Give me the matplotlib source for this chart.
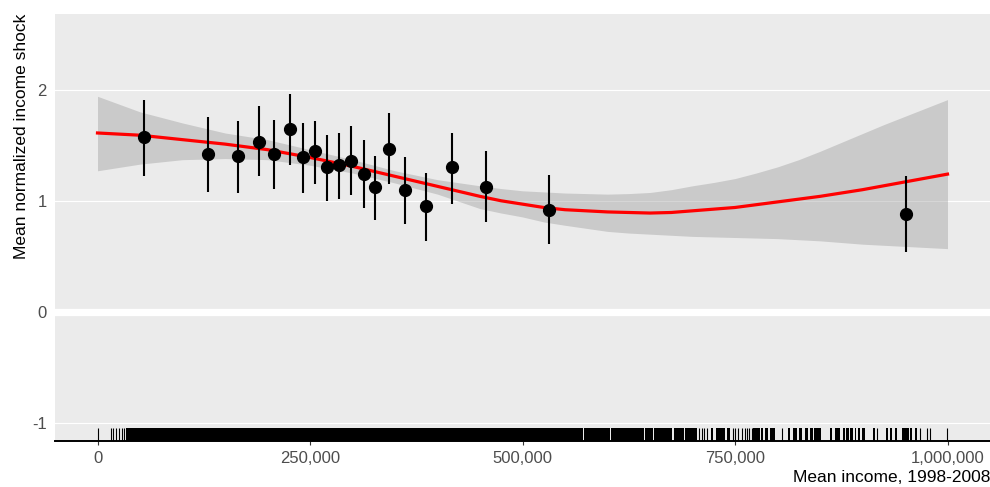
import matplotlib.pyplot as plt
from matplotlib.ticker import FuncFormatter

plt.rcParams["font.family"] = ["Liberation Sans", "DejaVu Sans"]
plt.rcParams["axes.unicode_minus"] = False

# binned means (income, mean shock, lower / upper bar)
bin_income = [55000, 130000, 165000, 190000, 208000, 226000, 242000, 256000, 270000, 284000,
              298000, 313000, 327000, 343500, 362000, 386000, 416500, 457000, 531000, 951000]
bin_mean = [1.57, 1.42, 1.40, 1.53, 1.42, 1.645, 1.39, 1.445, 1.30, 1.32,
            1.36, 1.245, 1.12, 1.47, 1.10, 0.95, 1.30, 1.125, 0.92, 0.88]
bin_hi = [1.91, 1.75, 1.72, 1.85, 1.73, 1.96, 1.70, 1.72, 1.59, 1.61,
          1.67, 1.55, 1.40, 1.79, 1.39, 1.25, 1.61, 1.45, 1.23, 1.22]
bin_lo = [1.22, 1.08, 1.07, 1.22, 1.11, 1.32, 1.07, 1.15, 0.995, 1.02,
          1.05, 0.935, 0.83, 1.15, 0.79, 0.64, 0.97, 0.81, 0.61, 0.54]

# smoother + confidence band
fit_x = [0, 50000, 100000, 150000, 200000, 250000, 300000, 350000, 400000, 450000, 475000,
         500000, 525000, 550000, 600000, 625000, 650000, 675000, 700000, 725000, 750000,
         775000, 800000, 825000, 850000, 875000, 900000, 925000, 950000, 975000, 1000000]
fit_y = [1.61, 1.59, 1.55, 1.51, 1.46, 1.39, 1.31, 1.22, 1.13, 1.04, 1.00,
         0.97, 0.94, 0.92, 0.90, 0.895, 0.89, 0.895, 0.91, 0.925, 0.94,
         0.965, 0.99, 1.015, 1.04, 1.07, 1.10, 1.135, 1.17, 1.205, 1.24]
fit_hi = [1.94, 1.80, 1.70, 1.61, 1.55, 1.46, 1.37, 1.27, 1.19, 1.135, 1.11,
          1.09, 1.08, 1.07, 1.06, 1.065, 1.075, 1.10, 1.135, 1.165, 1.20,
          1.25, 1.305, 1.37, 1.445, 1.525, 1.605, 1.685, 1.76, 1.835, 1.91]
fit_lo = [1.27, 1.33, 1.37, 1.38, 1.37, 1.32, 1.25, 1.16, 1.06, 0.93, 0.89,
          0.855, 0.81, 0.78, 0.725, 0.71, 0.70, 0.69, 0.68, 0.675, 0.67,
          0.665, 0.66, 0.65, 0.64, 0.625, 0.61, 0.60, 0.59, 0.58, 0.57]

# rug: single ticks and stretches that print as solid black
rug_ticks = [0, 16100, 18800, 22000, 25100, 28300, 30600,
             708000, 711000, 713600, 716800, 747400, 750100, 754000, 758000, 761900,
             763900, 766600, 769800, 805800, 917000, 968000, 975900, 979800, 999400]
rug_spans = [(33000, 555300), (556300, 571000), (572000, 603500), (604500, 642800),
             (643800, 653500), (654500, 661300), (662300, 675600), (678300, 690500),
             (691500, 705000), (721900, 724600), (727800, 738400), (740400, 744300),
             (771700, 779600), (780700, 783500), (785400, 789400), (791400, 797300),
             (812900, 814900), (818800, 822800), (825500, 828700), (831800, 835700),
             (838400, 841200), (843500, 850600), (862000, 864700), (867100, 873800),
             (876500, 878900), (880500, 883600), (885600, 888300), (890600, 892300),
             (894600, 897300), (899300, 903200), (911800, 914200), (927600, 930000),
             (932700, 934700), (937700, 940500), (946400, 954200), (956200, 958200),
             (962100, 964100)]

fig = plt.figure(figsize=(9.9, 4.87), dpi=100)
ax = fig.add_axes([55 / 990, 1 - 441 / 487, 1 - 55 / 990, (441 - 14) / 487])
ax.set_facecolor("#EBEBEB")

for y in [-1, 1, 2]:
    ax.axhline(y, color="white", linewidth=0.8, zorder=0.5)
ax.axhline(0, color="white", linewidth=5.2, zorder=0.6)

ax.fill_between(fit_x, fit_lo, fit_hi, color="#999999", alpha=0.4, linewidth=0, zorder=1)
ax.plot(fit_x, fit_y, color="#FF0000", linewidth=2.3, zorder=2)

ax.vlines(bin_income, bin_lo, bin_hi, color="black", linewidth=1.5, zorder=3)
ax.plot(bin_income, bin_mean, "o", color="black", markersize=8.5, zorder=4)

trans = ax.get_xaxis_transform()
ax.vlines(rug_ticks, 0, 0.03, transform=trans, color="black", linewidth=0.8, zorder=3)
for a, b in rug_spans:
    ax.axvspan(a, b, ymin=0, ymax=0.03, color="black", linewidth=0, zorder=3)

ax.set_xlim(-50000, 1050000)
ax.set_ylim(-1.16, 2.68)
ax.set_xticks([0, 250000, 500000, 750000, 1000000])
ax.xaxis.set_major_formatter(FuncFormatter(lambda v, p: f"{v:,.0f}"))
ax.set_yticks([-1, 0, 1, 2])

for s in ["top", "right", "left"]:
    ax.spines[s].set_visible(False)
ax.spines["bottom"].set_color("black")
ax.spines["bottom"].set_linewidth(1.4)
ax.spines["bottom"].set_zorder(5)

ax.tick_params(axis="x", length=3, width=0.8, color="#333333", labelsize=12,
               labelcolor="#4D4D4D", pad=4)
ax.tick_params(axis="y", length=0, labelsize=12, labelcolor="#4D4D4D", pad=6)

ax.set_xlabel("Mean income, 1998-2008", loc="right", fontsize=12.5, labelpad=3)
ax.set_ylabel("Mean normalized income shock", loc="top", fontsize=12.5, labelpad=2)

fig.savefig("out.png", dpi=100)
